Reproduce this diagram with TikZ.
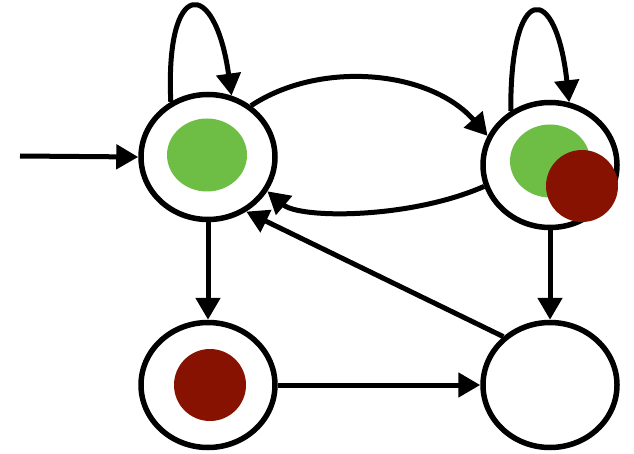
\documentclass[tikz,border=0pt]{standalone}
\usetikzlibrary{shapes.geometric,arrows.meta}
\definecolor{dotgreen}{RGB}{110,190,70}
\definecolor{dotred}{RGB}{136,18,2}
\tikzset{
  state/.style={ellipse, draw=black, line width=5.5pt, fill=white, minimum width=134pt, minimum height=125pt, inner sep=0pt},
  gdot/.style={ellipse, fill=dotgreen, minimum width=80pt, minimum height=73pt, inner sep=0pt},
  rdot/.style={circle, fill=dotred, minimum size=72pt, inner sep=0pt},
  arr/.style={line width=5pt, -{Triangle[length=22pt,width=24pt]}}
}
\begin{document}
\begin{tikzpicture}[x=1pt,y=-1pt]
\useasboundingbox (0,0) rectangle (634,454);
\node[state] (A) at (208,157) {};
\node[state] (B) at (550,165) {};
\node[state] (C) at (208,385) {};
\node[state] (D) at (550,385) {};
\node[gdot] (Ag) at (207,155) {};
\node[gdot] (Bg) at (550,161) {};
\node[rdot] (Br) at (582,186) {};
\node[rdot] (Cr) at (210,385) {};
\coordinate (S) at (20,156);
\draw[arr] (S) -- (A.west);
\draw[arr] (A.124) .. controls (165,-23) and (215,-23) .. (A.69);
\draw[arr] (B.126) .. controls (510,-19) and (556,-19) .. (B.73);
\draw[arr] (A.50) .. controls (320,60) and (430,70) .. (B.155);
\draw[arr] (B.198) .. controls (410,219) and (300,219) .. (A.-30);
\draw[arr] (D.134) -- (A.-55);
\draw[arr] (A.south) -- (C.north);
\draw[arr] (B.south) -- (D.north);
\draw[arr] (C.east) -- (D.west);
\end{tikzpicture}
\end{document}
